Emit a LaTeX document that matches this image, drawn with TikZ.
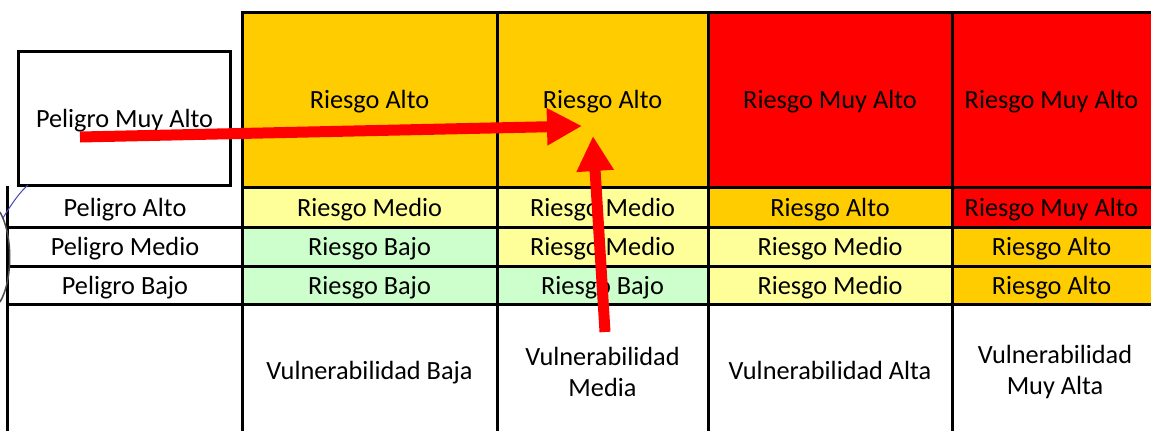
\documentclass[tikz,border=0pt]{standalone}
\usepackage{fontspec}
\setmainfont{Carlito}
\usetikzlibrary{arrows.meta}
\definecolor{cOrange}{HTML}{FFCC00}
\definecolor{cRed}{HTML}{FF0000}
\definecolor{cYellow}{HTML}{FFFF99}
\definecolor{cGreen}{HTML}{CCFFCC}
\tikzset{
  twoline/.style={rectangle, inner sep=0pt, outer sep=0pt, minimum width=#1, align=center,
    font=\fontsize{26.3bp}{31bp}\selectfont},
  cell/.style={twoline=#1, text height=20bp, text depth=2bp},
  grid/.style={line width=3bp, line cap=rect},
  bigarrow/.style={draw=cRed, line width=11bp, -{Triangle[length=35bp,width=35bp]}},
}
\begin{document}
\begin{tikzpicture}[x=1bp,y=1bp]
\useasboundingbox (0,0) rectangle (1151,-430);
% top row (tall)
\node[cell=255bp, minimum height=175bp, fill=cOrange] (r1c1) at (369.5,-99.5) {Riesgo Alto};
\node[cell=211bp, minimum height=175bp, fill=cOrange] (r1c2) at (602.5,-99.5) {Riesgo Alto};
\node[cell=244bp, minimum height=175bp, fill=cRed] (r1c3) at (830,-99.5) {Riesgo Muy Alto};
\node[cell=199bp, minimum height=175bp, fill=cRed] (r1c4) at (1051.5,-99.5) {Riesgo Muy Alto};
% row 2
\node[cell=255bp, minimum height=39bp, fill=cYellow] (r2c1) at (369.5,-207) {Riesgo Medio};
\node[cell=211bp, minimum height=39bp, fill=cYellow] (r2c2) at (602.5,-207) {Riesgo Medio};
\node[cell=244bp, minimum height=39bp, fill=cOrange] (r2c3) at (830,-207) {Riesgo Alto};
\node[cell=199bp, minimum height=39bp, fill=cRed] (r2c4) at (1051.5,-207) {Riesgo Muy Alto};
% row 3
\node[cell=255bp, minimum height=39bp, fill=cGreen] (r3c1) at (369.5,-246.5) {Riesgo Bajo};
\node[cell=211bp, minimum height=39bp, fill=cYellow] (r3c2) at (602.5,-246.5) {Riesgo Medio};
\node[cell=244bp, minimum height=39bp, fill=cYellow] (r3c3) at (830,-246.5) {Riesgo Medio};
\node[cell=199bp, minimum height=39bp, fill=cOrange] (r3c4) at (1051.5,-246.5) {Riesgo Alto};
% row 4
\node[cell=255bp, minimum height=38bp, fill=cGreen] (r4c1) at (369.5,-285) {Riesgo Bajo};
\node[cell=211bp, minimum height=38bp, fill=cGreen] (r4c2) at (602.5,-285) {Riesgo Bajo};
\node[cell=244bp, minimum height=38bp, fill=cYellow] (r4c3) at (830,-285) {Riesgo Medio};
\node[cell=199bp, minimum height=38bp, fill=cOrange] (r4c4) at (1051.5,-285) {Riesgo Alto};
% row labels
\node[cell=211bp, minimum height=134bp, draw, line width=3bp] (pma) at (124.5,-118) {Peligro Muy Alto};
\node[cell=230bp] (pa) at (125,-207) {Peligro Alto};
\node[cell=230bp] (pm) at (125,-246.5) {Peligro Medio};
\node[cell=230bp] (pb) at (125,-285) {Peligro Bajo};
% column labels
\node[cell=250bp] (v1) at (369.5,-370) {Vulnerabilidad Baja};
\node[twoline=205bp] (v2) at (602.5,-372) {Vulnerabilidad\\Media};
\node[cell=240bp] (v3) at (830,-370) {Vulnerabilidad Alta};
\node[twoline=195bp] (v4) at (1055,-372) {Vulnerabilidad\\Muy Alta};
% grid lines
\draw[grid] (242,-12) -- (1151,-12);
\draw[grid] (242,-187) -- (1151,-187);
\draw[grid] (7,-227) -- (1151,-227);
\draw[grid] (7,-266) -- (1151,-266);
\draw[grid] (7,-304) -- (1151,-304);
\draw[grid] (7,-187) -- (7,-432);
\foreach \x in {242,497,708,952} \draw[grid] (\x,-12) -- (\x,-432);
% scribbles at left edge
\draw[black!70, line width=1.5bp] (0,-212) .. controls (13,-235) and (13,-280) .. (0,-302);
\draw[blue!45!gray, line width=1bp] (3,-218) .. controls (12,-203) and (20,-192) .. (28,-185);
% arrows
\coordinate (a1s) at (80,-137);
\coordinate (a1e) at (582,-126);
\coordinate (a2s) at (605,-332);
\coordinate (a2e) at (593,-136);
\draw[bigarrow] (a1s) -- (a1e);
\draw[bigarrow] (a2s) -- (a2e);
\end{tikzpicture}
\end{document}
